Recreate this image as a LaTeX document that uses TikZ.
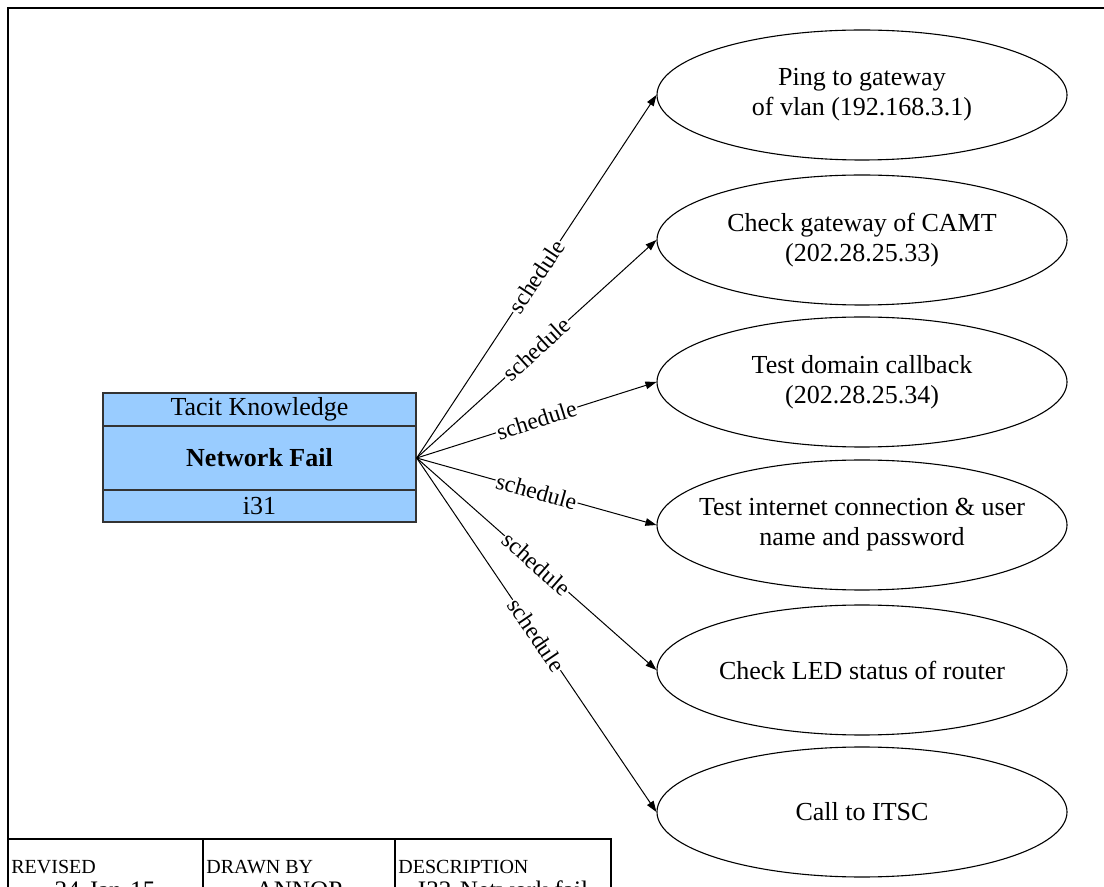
\documentclass[tikz,border=0pt]{standalone}
\usepackage{fontspec}
\setmainfont{Liberation Serif}
\usetikzlibrary{arrows.meta,shapes.geometric}
\definecolor{boxblue}{RGB}{153,204,255}
\begin{document}
\begin{tikzpicture}[x=0.5pt,y=-0.5pt,
  task/.style={ellipse, draw, line width=0.55pt, minimum width=205pt, minimum height=65pt,
    inner sep=-30pt, align=center, font=\fontsize{13}{15}\selectfont},
  edge/.style={line width=0.5pt, -{Triangle[length=5.5pt,width=3.8pt]}},
  lab/.style={sloped, fill=white, inner sep=0.6pt, font=\fontsize{11.8}{13}\selectfont},
  row/.style={rectangle, draw=black!80, fill=boxblue, line width=0.7pt, minimum width=156.5pt,
    inner sep=0pt, font=\fontsize{13}{15}\selectfont},
  head/.style={anchor=base west, inner sep=0pt, font=\fontsize{10}{12}\selectfont},
  val/.style={anchor=base, inner sep=0pt, font=\fontsize{12.6}{15}\selectfont},
]
\useasboundingbox (0,0) rectangle (1104,887);
\clip (0,0) rectangle (1104,887);

% sheet frame
\draw[line width=0.8pt] (8,1000) |- (1200,8);

% title block
\draw[line width=0.6pt] (8,839) -- (611,839) -- (611,1000);
\draw[line width=0.6pt] (203,839) -- (203,1000);
\draw[line width=0.6pt] (395,839) -- (395,1000);
\node[head] (hrev)  at (11,873)  {REVISED};
\node[head] (hdrawn) at (206,873) {DRAWN BY};
\node[head] (hdesc) at (398,873) {DESCRIPTION};
\node[val] (vrev)  at (105,898) {24-Jan-15};
\node[val] (vdrawn) at (299,898) {ANNOP};
\node[val] (vdesc) at (503,898) {I32-Network fail};

% knowledge box
\node[row, minimum height=16.5pt] (kind) at (259.5,409.5) {Tacit Knowledge};
\node[row, minimum height=32pt, font=\fontsize{13}{15}\selectfont\bfseries] (src) at (259.5,458) {Network Fail};
\node[row, minimum height=16pt] (kid) at (259.5,506) {i31};

% tasks
\node[task] (e1) at (862,95)  {Ping to gateway\\of vlan (192.168.3.1)};
\node[task] (e2) at (862,240) {Check gateway of CAMT\\(202.28.25.33)};
\node[task] (e3) at (862,382) {Test domain callback\\(202.28.25.34)};
\node[task] (e4) at (862,525) {Test internet connection \& user\\name and password};
\node[task] (e5) at (862,670) {Check LED status of router};
\node[task] (e6) at (862,812) {Call to ITSC};

% schedule edges
\foreach \t in {e1,e2,e3,e4,e5,e6}
  \draw[edge] (src.east) -- node[lab] {schedule} (\t.west);
\end{tikzpicture}
\end{document}
